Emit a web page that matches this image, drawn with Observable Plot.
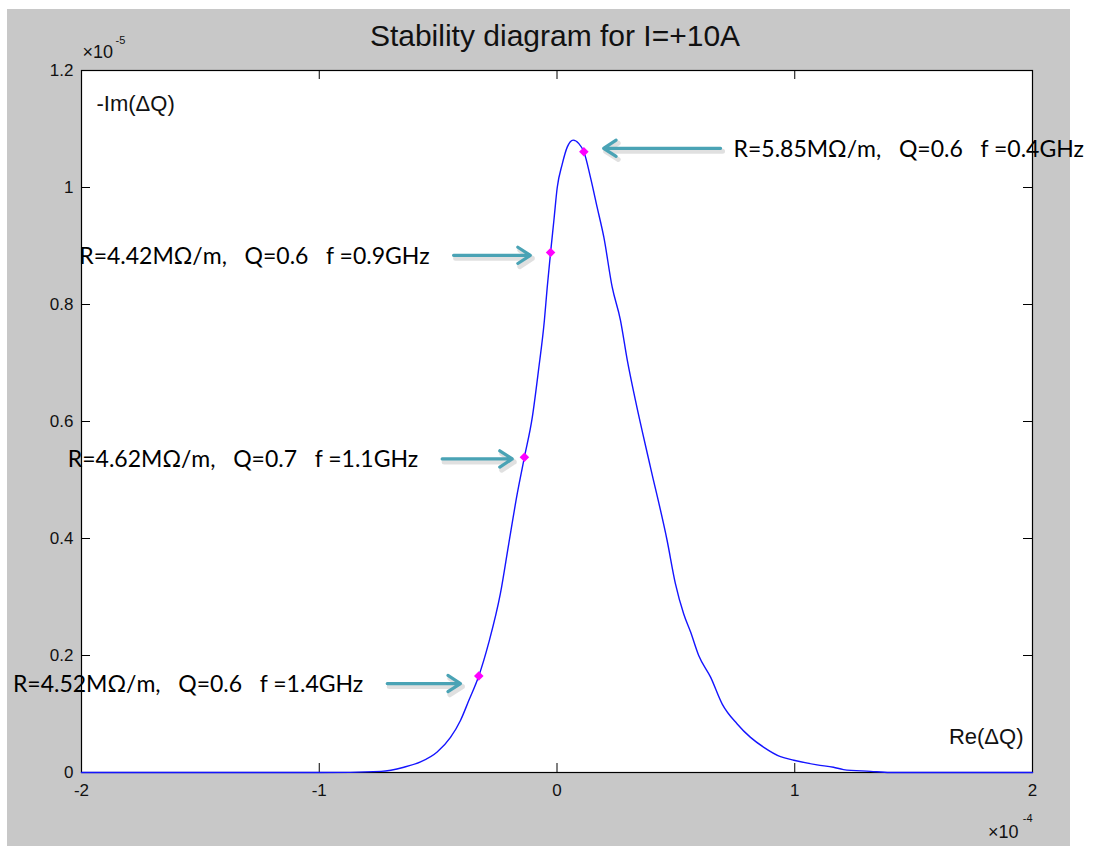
<!DOCTYPE html>
<html>
<head>
<meta charset="utf-8">
<script src="https://cdn.jsdelivr.net/npm/d3@7"></script>
<script src="https://cdn.jsdelivr.net/npm/@observablehq/plot@0.6"></script>
<style>
  html, body { margin: 0; padding: 0; background: white; }
  #bg { position: absolute; left: 7px; top: 9px; width: 1063px; height: 837px; background: #c8c8c8; }
  #chart { position: absolute; left: 0; top: 0; }
</style>
</head>
<body>
<div id="bg"></div>
<div id="chart"></div>
<script>
// ---- data (x in units of 1e-4, y in units of 1e-5) ----
const title = "Stability diagram for I=+10A";
const xTicks = [-2, -1, 0, 1, 2];
const yTicks = [0, 0.2, 0.4, 0.6, 0.8, 1, 1.2];
const xExponent = "-4";
const yExponent = "-5";
const xLabel = "Re(ΔQ)";
const yLabel = "-Im(ΔQ)";

const curveX = [-2.0, -1.0, -0.74, -0.644, -0.574, -0.504, -0.448, -0.406, -0.371, -0.329, -0.287, -0.238, -0.203, -0.167, -0.137, -0.104, -0.078, -0.053, -0.041, -0.027, -0.013, 0.001, 0.022, 0.043, 0.068, 0.092, 0.113, 0.141, 0.169, 0.197, 0.232, 0.267, 0.296, 0.330, 0.393, 0.463, 0.498, 0.533, 0.562, 0.596, 0.646, 0.695, 0.758, 0.814, 0.870, 0.940, 0.996, 1.094, 1.163, 1.205, 1.319, 1.40, 2.0];
const curveY = [0, 0, 0.002, 0.009, 0.018, 0.035, 0.060, 0.089, 0.123, 0.165, 0.222, 0.306, 0.391, 0.477, 0.539, 0.607, 0.687, 0.773, 0.830, 0.889, 0.944, 1.000, 1.040, 1.069, 1.081, 1.075, 1.061, 1.017, 0.966, 0.915, 0.830, 0.773, 0.704, 0.636, 0.522, 0.397, 0.323, 0.271, 0.240, 0.200, 0.163, 0.117, 0.083, 0.060, 0.043, 0.027, 0.021, 0.013, 0.009, 0.005, 0.002, 0, 0];

const markerX = [0.113, -0.027, -0.137, -0.329];
const markerY = [1.061, 0.889, 0.539, 0.165];

const noteText = [
  "R=5.85MΩ/m,\u00a0\u00a0\u00a0Q=0.6\u00a0\u00a0\u00a0f =0.4GHz",
  "R=4.42MΩ/m,\u00a0\u00a0\u00a0Q=0.6\u00a0\u00a0\u00a0f =0.9GHz",
  "R=4.62MΩ/m,\u00a0\u00a0\u00a0Q=0.7\u00a0\u00a0\u00a0f =1.1GHz",
  "R=4.52MΩ/m,\u00a0\u00a0\u00a0Q=0.6\u00a0\u00a0\u00a0f =1.4GHz"
];
const arrowTailX = [0.688, -0.435, -0.483, -0.714];
const arrowHeadX = [0.196, -0.112, -0.188, -0.406];
const arrowY = [1.067, 0.884, 0.536, 0.152];
const noteSide = ["right", "left", "left", "left"];

// ---- build tables ----
const curve = curveX.map((x, i) => ({x, y: curveY[i]}));
const markers = markerX.map((x, i) => ({x, y: markerY[i]}));
const notes = noteText.map((t, i) => ({text: t, x1: arrowTailX[i], x2: arrowHeadX[i], y: arrowY[i], side: noteSide[i]}));

const W = 1117, H = 846;
const mL = 81, mR = 85, mT = 70, mB = 74;
const fw = W - mL - mR, fh = H - mT - mB;
const tickLen = 9;
const sans = "Liberation Sans, Arial, Helvetica, sans-serif";
const noteFont = "Lato, 'Open Sans', sans-serif";

const plot = Plot.plot({
  width: W, height: H,
  marginLeft: mL, marginRight: mR, marginTop: mT, marginBottom: mB,
  style: {background: "transparent", overflow: "visible", fontFamily: sans, fontSize: "17px"},
  x: {domain: [-2, 2], ticks: xTicks},
  y: {domain: [0, 1.2], ticks: yTicks},
  marks: [
    Plot.frame({fill: "white", stroke: "none"}),
    // inward ticks on all sides
    Plot.tickX(xTicks, {x: d => d, insetTop: fh - tickLen, stroke: "#000", strokeWidth: 1}),
    Plot.tickX(xTicks, {x: d => d, insetBottom: fh - tickLen, stroke: "#000", strokeWidth: 1}),
    Plot.tickY(yTicks, {y: d => d, insetRight: fw - tickLen, stroke: "#000", strokeWidth: 1}),
    Plot.tickY(yTicks, {y: d => d, insetLeft: fw - tickLen, stroke: "#000", strokeWidth: 1}),
    Plot.axisX(xTicks, {tickSize: 0, tickPadding: 11, fontSize: 17, fill: "#111", label: null, tickFormat: d => String(d)}),
    Plot.axisY(yTicks, {tickSize: 0, tickPadding: 8, fontSize: 17, fill: "#111", label: null, tickFormat: d => String(d)}),
    Plot.frame({stroke: "#000", strokeWidth: 1.2}),
    Plot.line(curve, {x: "x", y: "y", stroke: "#1414ff", strokeWidth: 1.4, curve: "monotone-x"}),
    Plot.dot(markers, {x: "x", y: "y", symbol: "diamond2", r: 4.3, fill: "#ff00ff", stroke: "none"}),
    // arrow shadows and arrows
    Plot.arrow(notes, {x1: "x1", x2: "x2", y1: "y", y2: "y", stroke: "#000", strokeOpacity: 0.12, strokeWidth: 5, headLength: 4.5, headAngle: 66, dx: 2, dy: 3}),
    Plot.arrow(notes, {x1: "x1", x2: "x2", y1: "y", y2: "y", stroke: "#4aa3b5", strokeWidth: 3.2, headLength: 7, headAngle: 66}),
    Plot.text(notes.filter(d => d.side === "right"), {x: "x1", y: "y", text: "text", textAnchor: "start", lineAnchor: "middle", dx: 13, dy: 1, fontSize: 23, fill: "#000", fontFamily: noteFont}),
    Plot.text(notes.filter(d => d.side === "left"), {x: "x1", y: "y", text: "text", textAnchor: "end", lineAnchor: "middle", dx: -24, dy: 1, fontSize: 23, fill: "#000", fontFamily: noteFont}),
    // axis name labels inside the frame
    Plot.text([yLabel], {text: d => d, frameAnchor: "top-left", textAnchor: "start", lineAnchor: "middle", dx: 15, dy: 33, fontSize: 22, fill: "#111"}),
    Plot.text([xLabel], {text: d => d, frameAnchor: "bottom-right", textAnchor: "end", lineAnchor: "middle", dx: -9, dy: -36, fontSize: 22, fill: "#111"}),
    // exponent labels
    Plot.text(["×10"], {text: d => d, frameAnchor: "top-left", textAnchor: "start", lineAnchor: "middle", dx: 1, dy: -18, fontSize: 18, fill: "#111"}),
    Plot.text([yExponent], {text: d => d, frameAnchor: "top-left", textAnchor: "start", lineAnchor: "middle", dx: 34, dy: -30, fontSize: 11, fill: "#111"}),
    Plot.text(["×10"], {text: d => d, frameAnchor: "bottom-right", textAnchor: "end", lineAnchor: "middle", dx: -14, dy: 60, fontSize: 18, fill: "#111"}),
    Plot.text([xExponent], {text: d => d, frameAnchor: "bottom-right", textAnchor: "end", lineAnchor: "middle", dx: 0, dy: 46, fontSize: 11, fill: "#111"}),
    // title
    Plot.text([title], {text: d => d, frameAnchor: "top", lineAnchor: "middle", dx: -2, dy: -34, fontSize: 30, fill: "#111"})
  ]
});
document.getElementById("chart").appendChild(plot);
</script>
</body>
</html>
